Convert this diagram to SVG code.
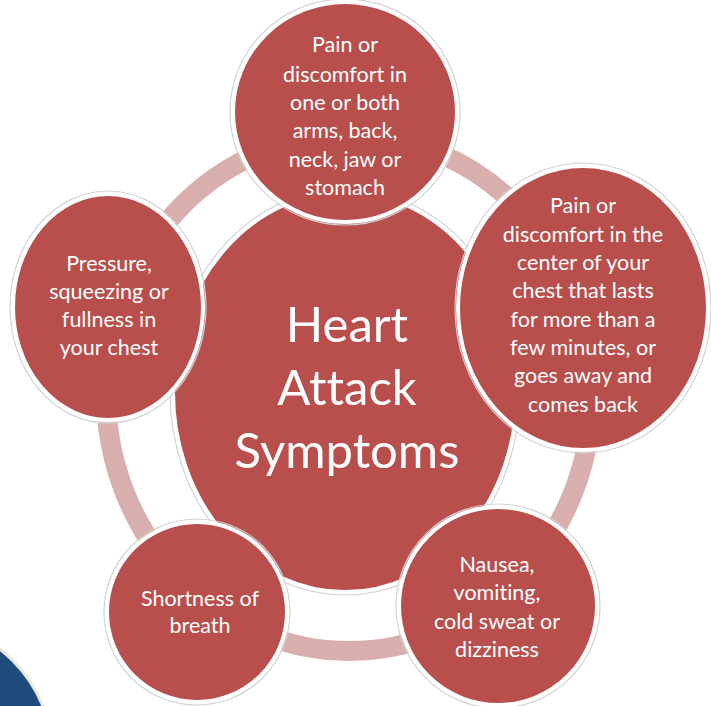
<svg xmlns="http://www.w3.org/2000/svg" width="711" height="706" viewBox="0 0 711 706">
<style>
.node{fill:#b94f4d;stroke:#ffffff;stroke-width:4}
.halo{fill:none;stroke:#d2d2d2;stroke-width:1.2}
.t{font-family:Lato,"Open Sans",sans-serif;fill:#ffffff;text-anchor:middle;font-size:21.5px;font-variant-ligatures:none}
.big{font-size:49px}
</style>
<rect width="711" height="706" fill="#ffffff"/>
<circle cx="-85" cy="758" r="138" fill="#1f4a7c" stroke="#ebe8da" stroke-width="3"/>
<g id="connectors">
<ellipse cx="349" cy="393" rx="243" ry="258" fill="none" stroke="#d9afae" stroke-width="20"/>
</g>
<g id="center">
<ellipse class="halo" cx="345" cy="392" rx="175" ry="203"/>
<ellipse class="node" cx="345" cy="392" rx="172" ry="200"/>
<text class="t big" x="347" y="342">Heart</text>
<text class="t big" x="347" y="405">Attack</text>
<text class="t big" x="347" y="468">Symptoms</text>
</g>
<g id="node-top">
<ellipse class="halo" cx="345" cy="112" rx="115" ry="113"/>
<ellipse class="node" cx="345" cy="112" rx="112" ry="110"/>
<text class="t" x="345" y="52">Pain or</text>
<text class="t" x="345" y="82">discomfort in</text>
<text class="t" x="345" y="110">one or both</text>
<text class="t" x="345" y="138">arms, back,</text>
<text class="t" x="345" y="167">neck, jaw or</text>
<text class="t" x="345" y="195">stomach</text>
</g>
<g id="node-right">
<ellipse class="halo" cx="583" cy="308" rx="128" ry="145"/>
<ellipse class="node" cx="583" cy="308" rx="125" ry="142"/>
<text class="t" x="583" y="213">Pain or</text>
<text class="t" x="583" y="242">discomfort in the</text>
<text class="t" x="583" y="270">center of your</text>
<text class="t" x="583" y="298">chest that lasts</text>
<text class="t" x="583" y="327">for more than a</text>
<text class="t" x="583" y="355">few minutes, or</text>
<text class="t" x="583" y="383">goes away and</text>
<text class="t" x="583" y="412">comes back</text>
</g>
<g id="node-bottom-right">
<ellipse class="halo" cx="498" cy="606" rx="102" ry="102"/>
<ellipse class="node" cx="498" cy="606" rx="99" ry="99"/>
<text class="t" x="497" y="572">Nausea,</text>
<text class="t" x="497" y="600">vomiting,</text>
<text class="t" x="497" y="629">cold sweat or</text>
<text class="t" x="497" y="657">dizziness</text>
</g>
<g id="node-bottom-left">
<ellipse class="halo" cx="197" cy="612" rx="93" ry="93"/>
<ellipse class="node" cx="197" cy="612" rx="90" ry="90"/>
<text class="t" x="200" y="606">Shortness of</text>
<text class="t" x="200" y="633">breath</text>
</g>
<g id="node-left">
<ellipse class="halo" cx="108" cy="307" rx="98" ry="116"/>
<ellipse class="node" cx="108" cy="307" rx="95" ry="113"/>
<text class="t" x="109" y="271">Pressure,</text>
<text class="t" x="109" y="299">squeezing or</text>
<text class="t" x="109" y="327">fullness in</text>
<text class="t" x="109" y="355">your chest</text>
</g>
</svg>
